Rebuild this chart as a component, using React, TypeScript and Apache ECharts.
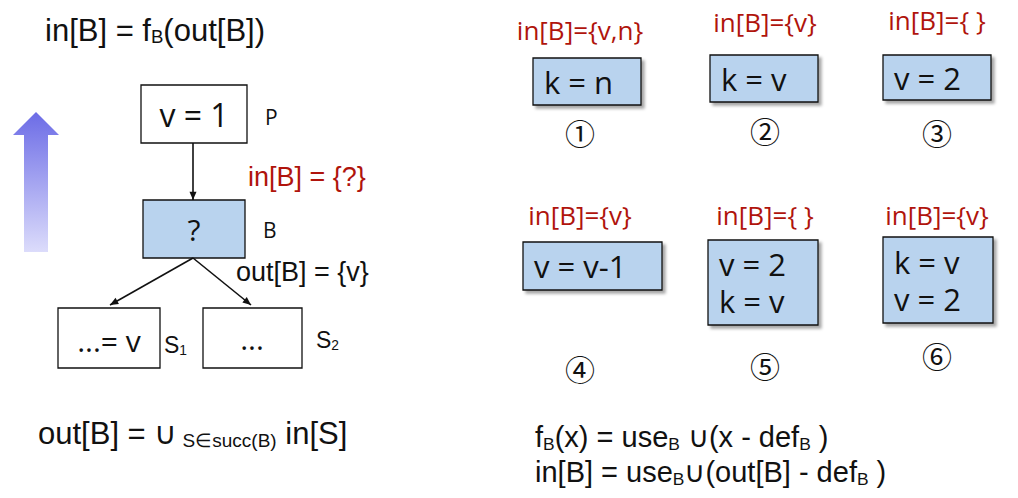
import React, { useEffect, useRef } from 'react';
import * as echarts from 'echarts';

const RED = '#b0140c';
const BLUE = '#b9d3ee';

// right-hand panel: block code, in-set, circled number
const blockCode = [['k = n'], ['k = v'], ['v = 2'], ['v = v-1'], ['v = 2', 'k = v'], ['k = v', 'v = 2']];
const blockIn = ['in[B]={v,n}', 'in[B]={v}', 'in[B]={ }', 'in[B]={v}', 'in[B]={ }', 'in[B]={v}'];
const blockNum = ['①', '②', '③', '④', '⑤', '⑥'];
// layout for each block: [labelX, labelY, boxX, boxY, boxW, boxH, numY]
const blockLayout = [
  [580, 30, 533, 58, 108, 47, 132],
  [765, 22, 710, 55, 108, 47, 130],
  [937, 20, 883, 55, 108, 45, 132],
  [580, 215, 523, 242, 139, 48, 368],
  [765, 215, 708, 240, 110, 85, 365],
  [937, 215, 883, 237, 110, 86, 355],
];

const SANS = '"Liberation Sans", Arial, sans-serif';
const SEGOE = '"Open Sans", "DejaVu Sans", sans-serif';

const box = (x: number, y: number, w: number, h: number, fill: string, shadow = false) => ({
  type: 'rect',
  shape: { x, y, width: w, height: h },
  style: {
    fill, stroke: '#111', lineWidth: 1.3,
    shadowBlur: shadow ? 3 : 0, shadowOffsetX: shadow ? 3 : 0, shadowOffsetY: shadow ? 3 : 0,
    shadowColor: 'rgba(0,0,0,0.35)',
  },
});

const txt = (x: number, y: number, text: string, size: number, extra: any = {}) => ({
  type: 'text',
  x, y,
  style: {
    text, fontSize: size, fontFamily: SEGOE, fill: '#111',
    textAlign: 'center', textVerticalAlign: 'middle', ...extra,
  },
});

const arrowLine = (x1: number, y1: number, x2: number, y2: number) => {
  const a = Math.atan2(y2 - y1, x2 - x1);
  const L = 9, W = 0.4;
  return [
    { type: 'line', shape: { x1, y1, x2, y2 }, style: { stroke: '#111', lineWidth: 1.6 } },
    {
      type: 'polygon',
      shape: {
        points: [
          [x2, y2],
          [x2 - L * Math.cos(a - W), y2 - L * Math.sin(a - W)],
          [x2 - L * Math.cos(a + W), y2 - L * Math.sin(a + W)],
        ],
      },
      style: { fill: '#111' },
    },
  ];
};

const subRich = (size: number) => ({
  n: { fontSize: size, fontFamily: SANS, fill: '#111' },
  s: { fontSize: size * 0.6, fontFamily: SANS, fill: '#111', padding: [size * 0.45, 0, 0, 0] },
});

const App: React.FC = () => {
  const chartRef = useRef<HTMLDivElement>(null);

  useEffect(() => {
    if (!chartRef.current) return;
    const chart = echarts.init(chartRef.current, undefined, { renderer: 'svg' });

    const elements: any[] = [
      { type: 'text', x: 45, y: 30, style: { text: '{n|in[B] = f}{s|B}{n|(out[B])}', rich: subRich(31), textVerticalAlign: 'middle' } },
      {
        type: 'polygon',
        shape: { points: [[36, 112], [59, 135], [48, 135], [48, 252], [24, 252], [24, 135], [13, 135]] },
        style: {
          fill: new echarts.graphic.LinearGradient(0, 0, 0, 1, [
            { offset: 0, color: '#6c6ce6' },
            { offset: 1, color: '#dcdcfb' },
          ]),
        },
      },
      box(141, 85, 106, 58, '#fff'),
      txt(194, 114, 'v = 1', 32),
      txt(265, 117, 'P', 21, { textAlign: 'left' }),
      ...arrowLine(193, 143, 193, 200),
      txt(248, 177, 'in[B] = {?}', 27, { textAlign: 'left', fill: RED, fontFamily: SANS }),
      box(143, 200, 102, 58, BLUE),
      txt(194, 229, '?', 30),
      txt(263, 230, 'B', 21, { textAlign: 'left' }),
      ...arrowLine(193, 258, 110, 305),
      ...arrowLine(193, 258, 251, 305),
      txt(236, 272, 'out[B] = {v}', 27, { textAlign: 'left', fontFamily: SANS }),
      box(58, 308, 102, 60, '#fff'),
      txt(109, 340, '...= v', 30),
      { type: 'text', x: 164, y: 345, style: { text: '{n|S}{s|1}', rich: subRich(23), textVerticalAlign: 'middle' } },
      box(203, 308, 99, 60, '#fff'),
      txt(252, 338, '...', 30),
      { type: 'text', x: 316, y: 340, style: { text: '{n|S}{s|2}', rich: subRich(23), textVerticalAlign: 'middle' } },
      { type: 'text', x: 38, y: 433, style: { text: '{n|out[B] = ∪}{s| S∈succ(B)}{n| in[S]}', rich: { ...subRich(31), s: { fontSize: 19, fontFamily: SANS, fill: '#111', padding: [14, 0, 0, 0] } }, textVerticalAlign: 'middle' } },
      { type: 'text', x: 535, y: 437, style: { text: '{n|f}{s|B}{n|(x) = use}{s|B}{n| ∪(x - def}{s|B}{n| )}', rich: subRich(29), textVerticalAlign: 'middle' } },
      { type: 'text', x: 535, y: 472, style: { text: '{n|in[B] = use}{s|B}{n|∪(out[B] - def}{s|B}{n| )}', rich: subRich(29), textVerticalAlign: 'middle' } },
    ];

    blockCode.forEach((lines, i) => {
      const [lx, ly, bx, by, bw, bh, ny] = blockLayout[i];
      elements.push(txt(lx, ly, blockIn[i], 26, { fill: RED, fontFamily: SEGOE }));
      elements.push(box(bx, by, bw, bh, BLUE, true));
      const pad = lines.length > 1 ? 6 : 0;
      const step = (bh - 2 * pad) / lines.length;
      lines.forEach((l, j) => {
        elements.push(txt(bx + 11, by + pad + step * (j + 0.5), l, 31, { textAlign: 'left' }));
      });
      elements.push(txt(lx, ny, blockNum[i], 30, { fontFamily: '"Noto Sans CJK SC", sans-serif' }));
    });

    chart.setOption({ animation: false, backgroundColor: '#fff', graphic: { elements } });
    return () => chart.dispose();
  }, []);

  return <div ref={chartRef} style={{ position: 'absolute', left: 0, top: 0, width: 1018, height: 498 }} />;
};

export default App;
